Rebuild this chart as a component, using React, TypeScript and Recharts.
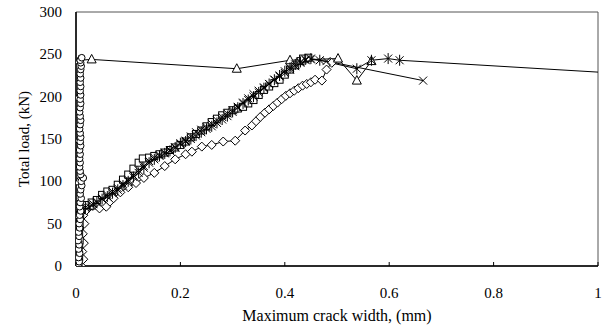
import React from 'react';
import { LineChart, Line, XAxis, YAxis, ReferenceArea } from 'recharts';

// crack width (mm) vs total load (kN), one array per specimen
const circleSeries: [number, number][] = [
  [0.004, 0], [0.006, 5], [0.005, 10], [0.007, 15], [0.005, 20], [0.006, 25], [0.004, 30],
  [0.006, 35], [0.005, 40], [0.007, 45], [0.006, 50], [0.008, 55], [0.007, 60], [0.009, 65],
  [0.007, 70], [0.008, 75], [0.01, 80], [0.008, 85], [0.009, 90], [0.011, 95], [0.01, 100],
  [0.014, 104], [0.009, 108], [0.008, 112], [0.007, 117], [0.008, 122], [0.007, 127],
  [0.008, 132], [0.007, 137], [0.009, 142], [0.008, 147], [0.009, 152], [0.008, 157],
  [0.007, 162], [0.008, 167], [0.009, 172], [0.008, 177], [0.007, 182], [0.008, 187],
  [0.009, 192], [0.008, 197], [0.009, 202], [0.008, 207], [0.009, 212], [0.008, 217],
  [0.009, 222], [0.008, 227], [0.009, 232], [0.01, 236], [0.009, 240], [0.008, 243], [0.011, 246],
];

const diamondSeries: [number, number][] = [
  [0.01, 0], [0.014, 8], [0.012, 17], [0.015, 27], [0.013, 38], [0.016, 50], [0.014, 60],
  [0.02, 66], [0.045, 68], [0.058, 70], [0.065, 76], [0.072, 80], [0.085, 87], [0.1, 93],
  [0.115, 98], [0.13, 104], [0.15, 110], [0.17, 118], [0.19, 126], [0.21, 132], [0.222, 135],
  [0.241, 141], [0.26, 143], [0.282, 147], [0.305, 148], [0.324, 160], [0.337, 166],
  [0.345, 171], [0.353, 176], [0.362, 181], [0.37, 185], [0.378, 189], [0.386, 193],
  [0.394, 197], [0.402, 201], [0.41, 204], [0.418, 207], [0.426, 210], [0.434, 213],
  [0.442, 215], [0.45, 217], [0.458, 220], [0.471, 219], [0.48, 232], [0.49, 240],
];

const squareSeries: [number, number][] = [
  [0.005, 0], [0.006, 10], [0.005, 20], [0.007, 30], [0.006, 40], [0.007, 50], [0.008, 60],
  [0.01, 68], [0.02, 72], [0.03, 75], [0.04, 78], [0.05, 84], [0.06, 88], [0.07, 90],
  [0.08, 96], [0.09, 102], [0.1, 108], [0.11, 115], [0.12, 122], [0.128, 127], [0.14, 128],
  [0.15, 130], [0.16, 132], [0.17, 134], [0.18, 137], [0.19, 140], [0.2, 143], [0.21, 147],
  [0.22, 152], [0.23, 156], [0.24, 160], [0.25, 165], [0.26, 170], [0.27, 174], [0.28, 178],
  [0.29, 181], [0.3, 184], [0.31, 186], [0.32, 188], [0.33, 192], [0.34, 196], [0.35, 202],
  [0.36, 208], [0.37, 212], [0.38, 216], [0.39, 220], [0.4, 226], [0.41, 232], [0.42, 237],
  [0.43, 242], [0.435, 245], [0.445, 246],
];

const triangleSeries: [number, number][] = [
  [0.005, 0], [0.004, 30], [0.006, 60], [0.005, 100], [0.006, 150], [0.005, 200],
  [0.006, 243], [0.03, 244], [0.308, 233], [0.41, 243], [0.502, 245], [0.538, 219],
  [0.566, 242],
];

const crossSeries: [number, number][] = [
  [0.005, 0], [0.004, 10], [0.006, 20], [0.005, 30], [0.004, 40], [0.006, 50], [0.007, 60],
  [0.01, 66], [0.02, 70], [0.03, 72], [0.04, 76], [0.05, 80], [0.06, 84], [0.07, 88],
  [0.08, 92], [0.09, 97], [0.1, 102], [0.11, 107], [0.12, 113], [0.13, 118], [0.14, 124],
  [0.15, 128], [0.16, 131], [0.17, 134], [0.18, 137], [0.19, 140], [0.2, 144], [0.21, 148],
  [0.22, 153], [0.23, 158], [0.24, 161], [0.25, 164], [0.26, 168], [0.27, 172], [0.28, 176],
  [0.29, 180], [0.3, 184], [0.31, 188], [0.32, 193], [0.33, 198], [0.34, 203], [0.35, 207],
  [0.36, 211], [0.37, 215], [0.38, 220], [0.39, 224], [0.4, 228], [0.41, 232], [0.42, 236],
  [0.43, 240], [0.44, 243], [0.45, 244], [0.48, 242], [0.665, 219],
];

const starSeries: [number, number][] = [
  [0.005, 0], [0.006, 12], [0.005, 25], [0.006, 38], [0.005, 50], [0.008, 60], [0.01, 66],
  [0.018, 69], [0.025, 70], [0.033, 73], [0.04, 75], [0.05, 79], [0.06, 82], [0.07, 86],
  [0.08, 90], [0.09, 95], [0.1, 100], [0.11, 105], [0.12, 110], [0.13, 116], [0.14, 122],
  [0.15, 126], [0.16, 130], [0.17, 133], [0.18, 136], [0.19, 140], [0.2, 145], [0.21, 147],
  [0.22, 150], [0.23, 154], [0.24, 158], [0.25, 162], [0.26, 165], [0.27, 169], [0.28, 173],
  [0.29, 177], [0.3, 182], [0.31, 187], [0.32, 192], [0.33, 196], [0.34, 200], [0.35, 205],
  [0.36, 210], [0.37, 215], [0.38, 220], [0.39, 225], [0.4, 230], [0.41, 234], [0.42, 238],
  [0.43, 241], [0.44, 244], [0.45, 245], [0.467, 243], [0.538, 233], [0.566, 243],
  [0.598, 245], [0.62, 243], [1.0, 229],
];

const xTicks = [0, 0.2, 0.4, 0.6, 0.8, 1];
const yTicks = [0, 50, 100, 150, 200, 250, 300];

const FONT = '"Liberation Serif", "Times New Roman", serif';
const INK = '#000';

type Marker = 'circle' | 'diamond' | 'square' | 'triangle' | 'cross' | 'star';

function drawMarker(kind: Marker, cx: number, cy: number, key: string) {
  const common = { stroke: INK, strokeWidth: 1, fill: '#fff' };
  switch (kind) {
    case 'circle':
      return <circle key={key} cx={cx} cy={cy} r={3.3} {...common} />;
    case 'square':
      return <rect key={key} x={cx - 3.5} y={cy - 3.5} width={7} height={7} {...common} />;
    case 'diamond':
      return (
        <polygon key={key} points={`${cx},${cy - 4.5} ${cx + 4.5},${cy} ${cx},${cy + 4.5} ${cx - 4.5},${cy}`} {...common} />
      );
    case 'triangle':
      return (
        <polygon key={key} points={`${cx},${cy - 5} ${cx + 4.5},${cy + 3.5} ${cx - 4.5},${cy + 3.5}`} {...common} />
      );
    case 'cross':
      return (
        <g key={key} stroke={INK} strokeWidth={1}>
          <line x1={cx - 4} y1={cy - 4} x2={cx + 4} y2={cy + 4} />
          <line x1={cx - 4} y1={cy + 4} x2={cx + 4} y2={cy - 4} />
        </g>
      );
    default:
      return (
        <g key={key} stroke={INK} strokeWidth={1}>
          <line x1={cx - 4} y1={cy - 4} x2={cx + 4} y2={cy + 4} />
          <line x1={cx - 4} y1={cy + 4} x2={cx + 4} y2={cy - 4} />
          <line x1={cx} y1={cy - 5.5} x2={cx} y2={cy + 5.5} />
        </g>
      );
  }
}

const seriesList: { name: string; kind: Marker; data: [number, number][]; lastBare?: boolean }[] = [
  { name: 'diamond', kind: 'diamond', data: diamondSeries },
  { name: 'square', kind: 'square', data: squareSeries },
  { name: 'triangle', kind: 'triangle', data: triangleSeries },
  { name: 'cross', kind: 'cross', data: crossSeries },
  { name: 'star', kind: 'star', data: starSeries, lastBare: true },
  { name: 'circle', kind: 'circle', data: circleSeries },
];

const XTick = (props: any) => {
  const { x, y, payload } = props;
  return (
    <g>
      <line x1={x} x2={x} y1={y} y2={y - 4} stroke={INK} />
      <text x={x} y={y + 32} textAnchor="middle" fontFamily={FONT} fontSize={15} fill={INK}>
        {payload.value}
      </text>
    </g>
  );
};

const YTick = (props: any) => {
  const { x, y, payload } = props;
  return (
    <text x={x - 14} y={y + 5} textAnchor="end" fontFamily={FONT} fontSize={15} fill={INK}>
      {payload.value}
    </text>
  );
};

const YTitle = () => (
  <text
    x={24}
    y={139}
    transform="rotate(-90 24 139)"
    textAnchor="middle"
    dominantBaseline="central"
    fontFamily={FONT}
    fontSize={15}
    fill={INK}
  >
    Total load, (kN)
  </text>
);

const XTitle = () => (
  <text x={337} y={321} textAnchor="middle" fontFamily={FONT} fontSize={16} fill={INK}>
    Maximum crack width, (mm)
  </text>
);

export default function App() {
  return (
    <div style={{ position: 'absolute', left: 0, top: 0, background: '#fff' }}>
      <LineChart width={611} height={334} margin={{ top: 12, right: 13, bottom: 0, left: 0 }}>
        <ReferenceArea x1={0} x2={1} y1={0} y2={300} fill="none" stroke="#555" strokeWidth={1} ifOverflow="visible" />
        <XAxis
          type="number"
          dataKey="x"
          domain={[0, 1]}
          ticks={xTicks}
          allowDataOverflow
          height={68}
          tickSize={0}
          tickMargin={0}
          tick={<XTick />}
          axisLine={{ stroke: INK, strokeWidth: 1.5 }}
          label={<XTitle />}
        />
        <YAxis
          type="number"
          dataKey="y"
          domain={[0, 300]}
          ticks={yTicks}
          allowDataOverflow
          width={76}
          tickSize={0}
          tickMargin={0}
          tick={<YTick />}
          axisLine={{ stroke: INK, strokeWidth: 1.5 }}
          label={<YTitle />}
        />
        {seriesList.map((s) => {
          const rows = s.data.map(([x, y]) => ({ x, y }));
          return (
            <Line
              key={s.name}
              data={rows}
              dataKey="y"
              type="linear"
              stroke={INK}
              strokeWidth={1}
              isAnimationActive={false}
              dot={(p: any) =>
                s.lastBare && p.index === rows.length - 1 ? (
                  <g key={`${s.name}-${p.index}`} />
                ) : (
                  drawMarker(s.kind, p.cx, p.cy, `${s.name}-${p.index}`)
                )
              }
              activeDot={false}
            />
          );
        })}
      </LineChart>
    </div>
  );
}
